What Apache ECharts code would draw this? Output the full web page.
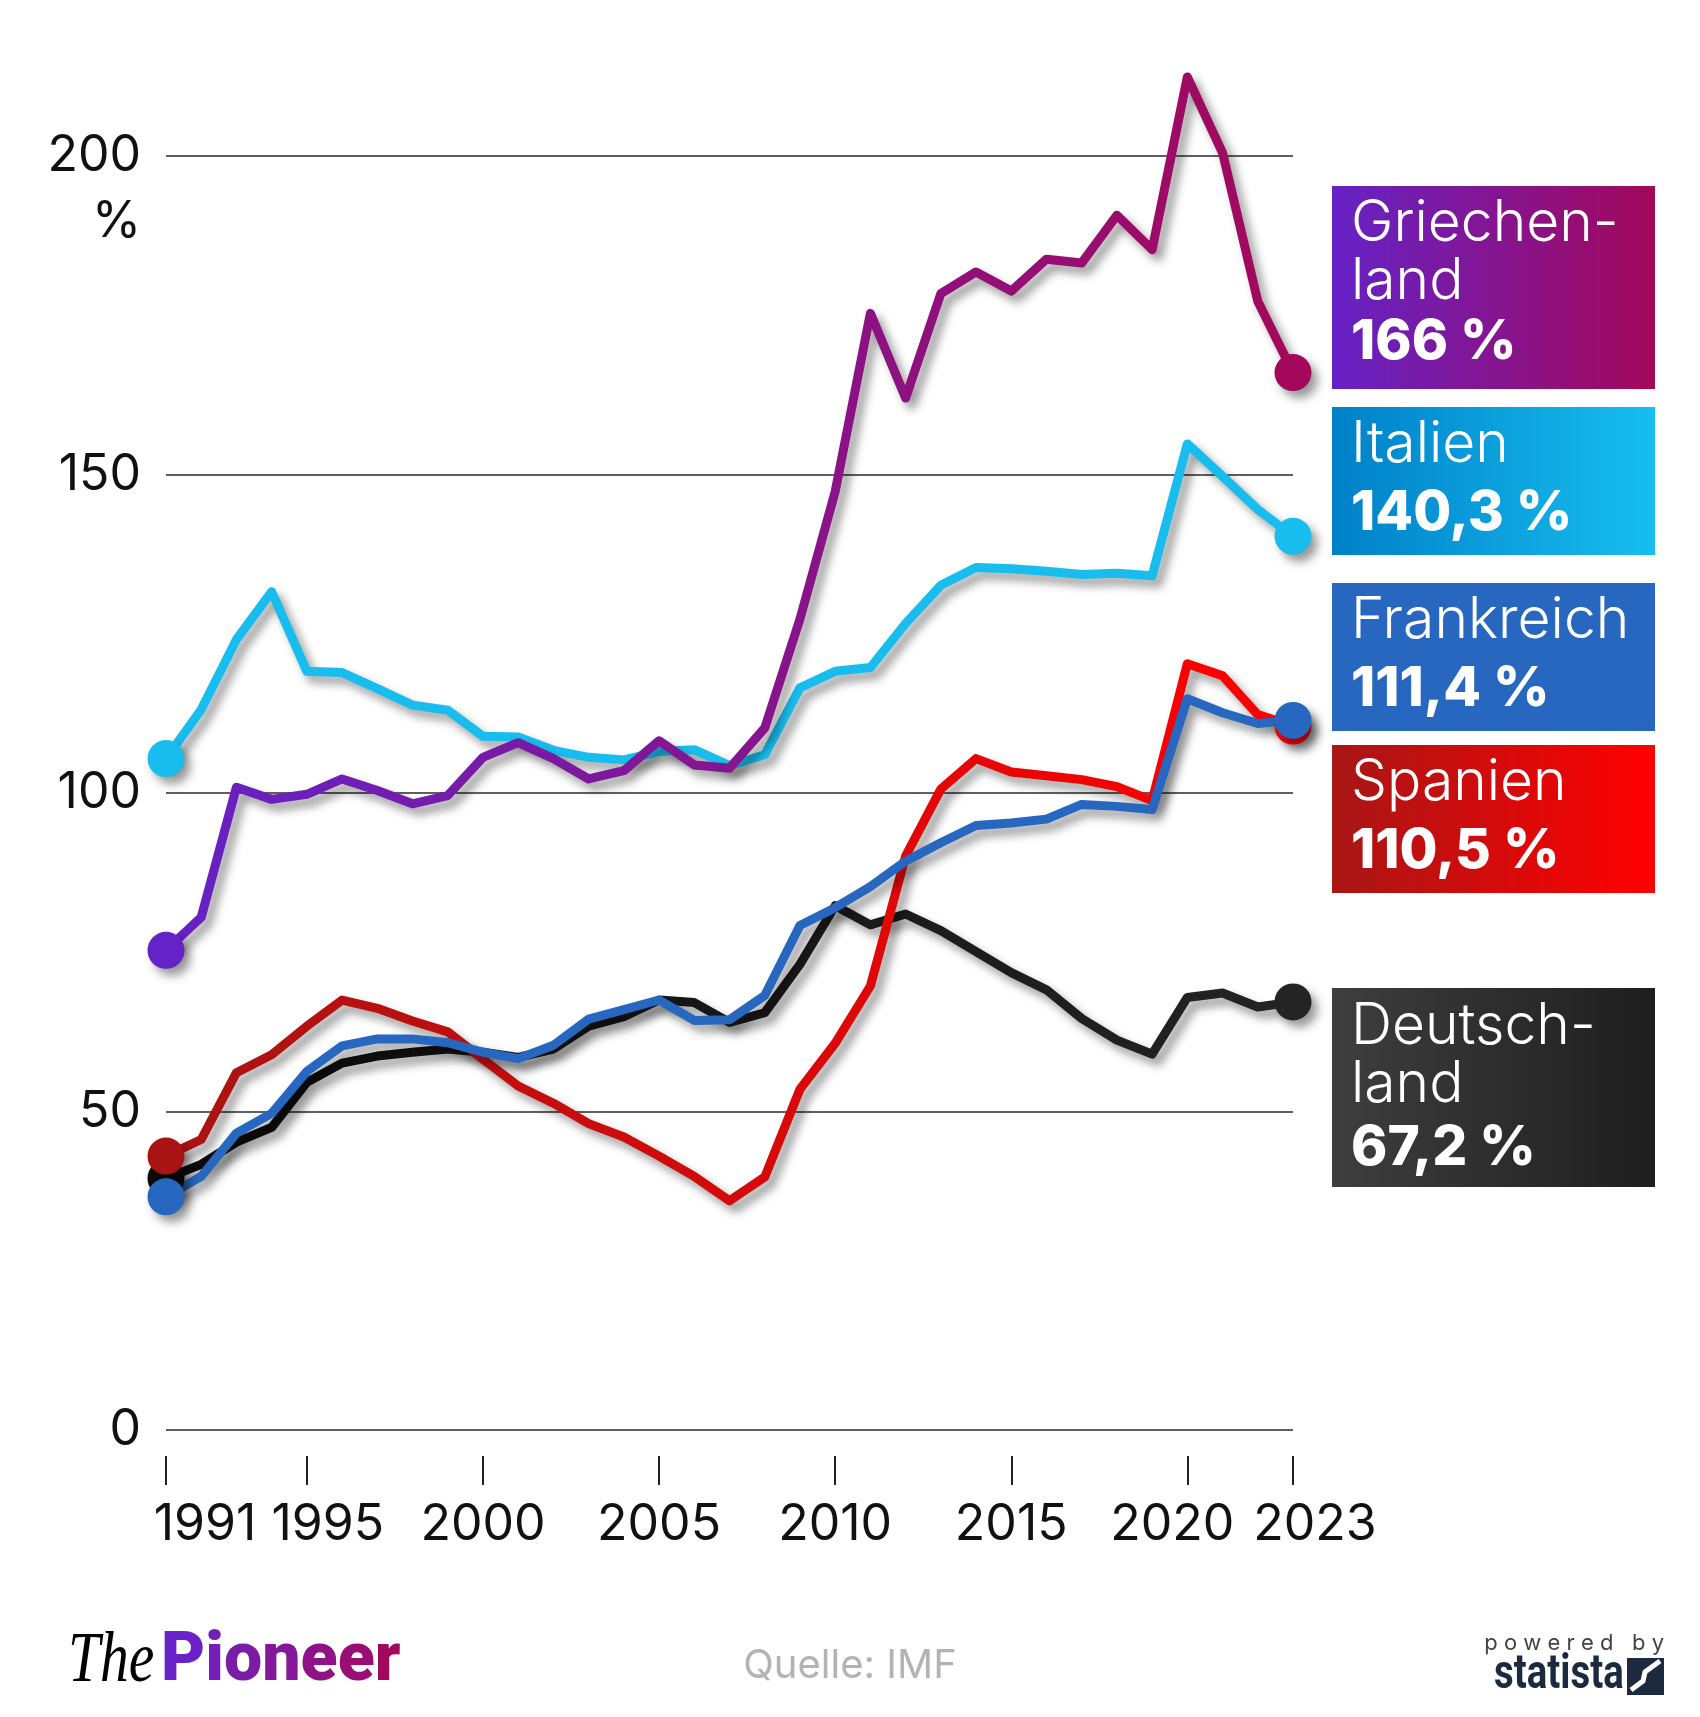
<!DOCTYPE html>
<html>
<head>
<meta charset="utf-8">
<script src="https://cdn.jsdelivr.net/npm/echarts@6/dist/echarts.min.js"></script>
<style>
  html, body { margin: 0; padding: 0; background: #fff; }
  #chart { width: 1700px; height: 1717px; }
</style>
</head>
<body>
<div id="chart"></div>
<script>
// Staatsverschuldung in % des BIP, Quelle: IMF
var years = ['1991','1992','1993','1994','1995','1996','1997','1998','1999','2000',
             '2001','2002','2003','2004','2005','2006','2007','2008','2009','2010',
             '2011','2012','2013','2014','2015','2016','2017','2018','2019','2020',
             '2021','2022','2023'];
var tickYears = ['1991','1995','2000','2005','2010','2015','2020','2023'];

var griechenland = [75.3, 80.5, 100.9, 99.0, 99.8, 102.2, 100.4, 98.3, 99.6, 105.6,
                    107.9, 105.4, 102.2, 103.5, 108.2, 104.4, 103.9, 110.2, 127.3, 147.3,
                    175.3, 162.0, 178.4, 181.8, 178.8, 183.8, 183.2, 190.7, 185.3, 212.4,
                    200.5, 177.2, 166];
var italien = [105.4, 113.1, 124.1, 131.6, 119.1, 118.9, 116.4, 113.8, 113.0, 108.9,
               108.8, 106.7, 105.6, 105.2, 106.5, 106.8, 104.3, 106.0, 116.5, 119.1,
               119.7, 126.6, 132.6, 135.4, 135.2, 134.8, 134.3, 134.5, 134.1, 154.8,
               149.7, 144.5, 140.3];
var frankreich = [36.6, 39.8, 46.6, 49.7, 56.3, 60.3, 61.4, 61.4, 60.8, 59.3,
                  58.3, 60.4, 64.5, 66.0, 67.5, 64.3, 64.4, 68.2, 79.2, 82.0,
                  85.3, 89.3, 92.2, 94.9, 95.3, 95.9, 98.2, 97.9, 97.4, 114.8,
                  112.6, 110.9, 111.4];
var spanien = [43.0, 45.6, 56.1, 58.9, 63.4, 67.5, 66.2, 64.2, 62.5, 58.2,
               54.0, 51.3, 48.1, 46.0, 43.0, 39.8, 36.0, 39.7, 53.5, 60.7,
               69.7, 90.1, 100.6, 105.4, 103.3, 102.7, 102.1, 101.0, 98.8, 120.3,
               118.4, 112.3, 110.5];
var deutschland = [39.5, 41.7, 45.2, 47.5, 54.6, 57.6, 58.7, 59.3, 59.8, 59.3,
                   58.5, 59.8, 63.4, 64.9, 67.5, 67.1, 64.0, 65.5, 73.1, 82.3,
                   79.3, 81.0, 78.4, 75.1, 71.8, 69.1, 64.6, 61.2, 59.0, 67.9,
                   68.6, 66.4, 67.2];

var FONT = 'Inter';
var chart = echarts.init(document.getElementById('chart'));

function grad(c1, c2) {
    return new echarts.graphic.LinearGradient(0, 0, 1, 0, [
        {offset: 0, color: c1}, {offset: 1, color: c2}
    ]);
}

var SHADOW = 'rgba(0,0,0,0.4)';

// Linie mit Punkt am Anfang und Ende
function linie(name, values, lineColor, startColor, endColor) {
    var last = values.length - 1;
    return {
        name: name,
        type: 'line',
        data: values,
        clip: false,
        showAllSymbol: true,
        symbol: function (v, p) { return (p.dataIndex === 0 || p.dataIndex === last) ? 'circle' : 'none'; },
        symbolSize: 37,
        lineStyle: {
            width: 9, color: lineColor, join: 'round',
            shadowColor: SHADOW, shadowBlur: 10, shadowOffsetX: 6, shadowOffsetY: 7
        },
        itemStyle: {
            color: function (p) { return p.dataIndex === 0 ? startColor : endColor; },
            shadowColor: SHADOW, shadowBlur: 10, shadowOffsetX: 6, shadowOffsetY: 7
        },
        emphasis: {disabled: true},
        z: 2
    };
}

function wert(v) {
    return String(v).replace('.', ',') + ' %';
}

// Kästen rechts
function kasten(top, h, fill, lines, baselines) {
    var kids = [{
        type: 'rect', shape: {x: 1332, y: top, width: 323, height: h}, style: {fill: fill}
    }];
    lines.forEach(function (t, i) {
        var bold = i === lines.length - 1;
        var fs = bold ? 55 : 57;
        kids.push({
            type: 'text', x: 1351, y: baselines[i] - fs * 0.35,
            style: {
                text: t, fill: '#fff', fontFamily: FONT, fontSize: fs,
                fontWeight: bold ? 800 : 300, textVerticalAlign: 'middle'
            }
        });
    });
    return {type: 'group', children: kids};
}

var labelRich = {
    n: {fontSize: 50, fontFamily: FONT, color: '#111'},
    a: {fontSize: 50, fontFamily: FONT, color: '#111', padding: [0, 0, 0, 78]},
    b: {fontSize: 50, fontFamily: FONT, color: '#111', padding: [0, 0, 0, 42]},
    c: {fontSize: 50, fontFamily: FONT, color: '#111', padding: [0, 30, 0, 0]},
    d: {fontSize: 50, fontFamily: FONT, color: '#111', padding: [0, 0, 0, 44]}
};
var labelStyleOf = {'1991': 'a', '1995': 'b', '2020': 'c', '2023': 'd'};

// Logo-Farben für "Pioneer"
var pioneerColors = ['#6a22c8', '#7220b6', '#7b1ca6', '#851898', '#8f1287', '#990d74', '#a2085c'];
var pioneerRich = {};
var pioneerText = '';
'Pioneer'.split('').forEach(function (ch, i) {
    pioneerRich['c' + i] = {fill: pioneerColors[i], fontFamily: 'Roboto', fontWeight: 900, fontSize: 68};
    pioneerText += '{c' + i + '|' + ch + '}';
});

option = {
    animation: false,
    backgroundColor: '#fff',
    grid: {left: 166, right: 407, top: 156, bottom: 287},
    xAxis: {
        type: 'category',
        data: years,
        boundaryGap: false,
        offset: 26,
        axisLine: {show: false, onZero: false},
        axisTick: {
            show: true, length: 29,
            lineStyle: {color: '#222', width: 2},
            interval: function (i, v) { return tickYears.indexOf(v) >= 0; }
        },
        axisLabel: {
            interval: function (i, v) { return tickYears.indexOf(v) >= 0; },
            margin: 44,
            formatter: function (v) { return '{' + (labelStyleOf[v] || 'n') + '|' + v + '}'; },
            rich: labelRich
        },
        splitLine: {show: false}
    },
    yAxis: {
        type: 'value',
        min: 0, max: 200, interval: 50,
        axisLine: {show: false},
        axisTick: {show: false},
        axisLabel: {fontSize: 50, fontFamily: FONT, color: '#111', margin: 25, padding: [10, 0, 0, 0]},
        splitLine: {lineStyle: {color: '#2a2a2a', width: 1.6}}
    },
    series: [
        linie('Italien', italien, '#18bdee', '#18bdee', '#18bdee'),
        linie('Griechenland', griechenland, grad('#6522c6', '#a3085a'), '#6522c6', '#a3085a'),
        linie('Deutschland', deutschland, grad('#0a0a0a', '#242424'), '#0a0a0a', '#242424'),
        linie('Spanien', spanien, grad('#a81414', '#ff0000'), '#a81414', '#ff0000'),
        linie('Frankreich', frankreich, '#2767c0', '#2767c0', '#2767c0')
    ],
    graphic: [
        {type: 'text', x: 141, y: 222,
         style: {text: '%', fill: '#111', fontFamily: FONT, fontSize: 50, textAlign: 'right', textVerticalAlign: 'middle'}},
        kasten(186, 203, grad('#6522c6', '#a3085a'), ['Griechen-', 'land', wert(griechenland[32])], [244, 302, 362]),
        kasten(407, 148, grad('#0080c8', '#17bef0'), ['Italien', wert(italien[32])], [465, 533]),
        kasten(583, 148, '#2767bf', ['Frankreich', wert(frankreich[32])], [641, 709]),
        kasten(745, 148, grad('#a81616', '#ff0000'), ['Spanien', wert(spanien[32])], [803, 871]),
        kasten(988, 199, grad('#3e3e3e', '#1e1e1e'), ['Deutsch-', 'land', wert(deutschland[32])], [1047, 1105, 1168]),
        // Fußzeile
        {type: 'text', x: 68, y: 1662, scaleX: 0.8,
         style: {text: 'The', fill: '#000', fontFamily: 'Liberation Serif', fontStyle: 'italic', fontSize: 72, textVerticalAlign: 'middle'}},
        {type: 'text', x: 161, y: 1663,
         style: {text: pioneerText, rich: pioneerRich, textVerticalAlign: 'middle'}},
        {type: 'text', x: 850, y: 1666,
         style: {text: 'Quelle: IMF', fill: '#b3b3b3', fontFamily: FONT, fontSize: 40, textAlign: 'center', textVerticalAlign: 'middle'}},
        {type: 'text', x: 1664, y: 1643,
         style: {text: 'p o w e r e d   b y', fill: '#444', fontFamily: FONT, fontSize: 22, textAlign: 'right', textVerticalAlign: 'middle'}},
        {type: 'text', x: 1494, y: 1676, scaleX: 0.8,
         style: {text: 'statista', fill: '#1b2a3f', fontFamily: 'Roboto', fontWeight: 700, fontSize: 48, textVerticalAlign: 'middle'}},
        {type: 'rect', shape: {x: 1627, y: 1658, width: 37, height: 37}, style: {fill: '#1b2a3f'}},
        {type: 'polyline', shape: {points: [[1631, 1690], [1643, 1681], [1645, 1672], [1660, 1661]]},
         style: {stroke: '#fff', lineWidth: 5, fill: null}}
    ]
};
chart.setOption(option);
</script>
</body>
</html>
